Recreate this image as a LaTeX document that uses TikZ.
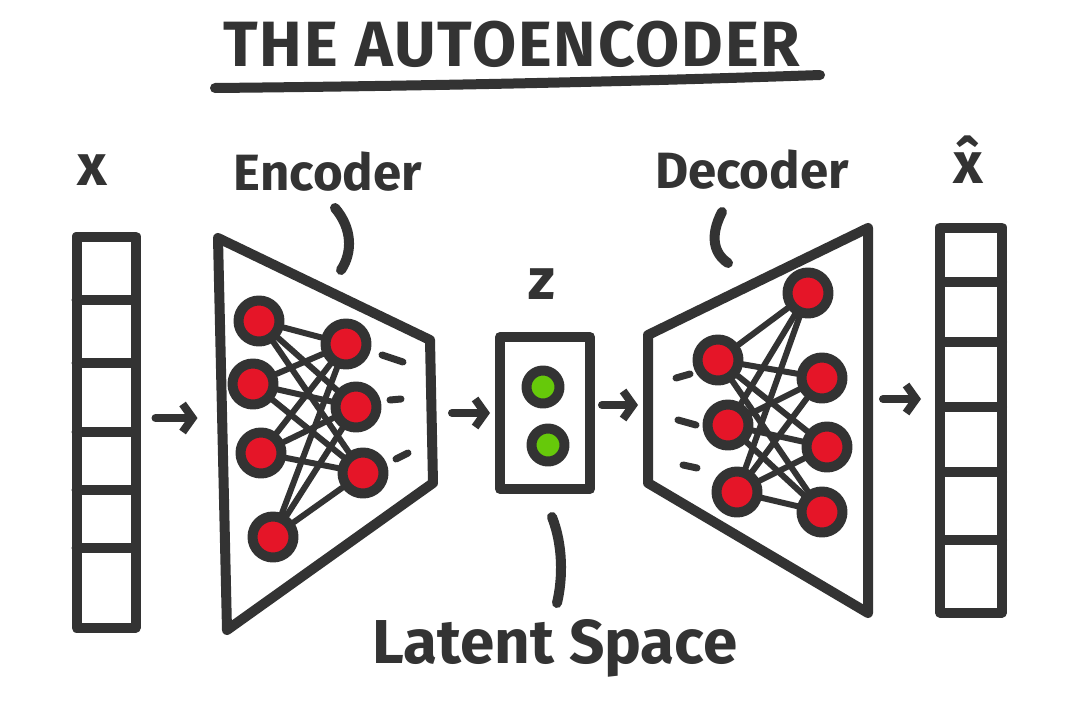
\documentclass[tikz,border=0pt]{standalone}
\usepackage{fontspec}
\setmainfont{Fira Sans}
\definecolor{AEInk}{HTML}{333333}
\definecolor{AERed}{HTML}{E51528}
\definecolor{AEGreen}{HTML}{66C90A}
\usetikzlibrary{positioning,arrows.meta,calc}

\begin{document}
\begin{tikzpicture}[x=1pt, y=-1pt, line cap=round, line join=round,
    ink/.style={draw=AEInk, line width=10pt},
    vec/.style={draw=AEInk, line width=10pt, outer sep=0pt, inner sep=0pt},
    neuron/.style={circle, draw=AEInk, line width=10pt, fill=AERed, minimum size=41pt, inner sep=0pt},
    latent/.style={neuron, fill=AEGreen, minimum size=33pt},
    link/.style={draw=AEInk, line width=6pt},
    flow/.style={draw=AEInk, line width=8pt, -{Straight Barb[length=10pt,width=28pt]}},
    lbl/.style={text=AEInk, inner sep=0pt, font=\bfseries\fontsize{#1}{#1}\selectfont},
    lbl/.default=50]
  \fill[white] (0,0) rectangle (1085,728);
  \useasboundingbox (0,0) rectangle (1085,728);

  % title
  \node[lbl=64] (title) at (512,44) {\addfontfeature{LetterSpace=3}THE AUTOENCODER};
  \draw[ink] (215,88) .. controls (420,86) and (620,82) .. (820,75);

  % input and output vectors
  \node[vec, minimum width=59pt, minimum height=391pt] (xin) at (106,432) {};
  \foreach \y in {300,363,432,490,548}
    \draw[ink] (xin.west |- 0,\y) -- (xin.east |- 0,\y);
  \node[vec, minimum width=62pt, minimum height=385pt] (xout) at (971,420) {};
  \foreach \y in {282,342,407,472,540}
    \draw[ink] (xout.west |- 0,\y) -- (xout.east |- 0,\y);
  \node[lbl=58] (xlab) at (92,170) {x};
  \node[lbl=58] (xhatlab) at (968,160) {\^{x}};

  % encoder
  \draw[ink] (218,238) -- (430,340) -- (433,483) -- (227,630) -- cycle;
  \node[neuron] (e1) at (259,321) {};
  \node[neuron] (e2) at (253,384) {};
  \node[neuron] (e3) at (261,453) {};
  \node[neuron] (e4) at (273,537) {};
  \node[neuron] (f1) at (346,344) {};
  \node[neuron] (f2) at (356,407) {};
  \node[neuron] (f3) at (363,473) {};
  \foreach \i in {1,...,4}
    \foreach \j in {1,2,3}
      \draw[link] (e\i) -- (f\j);
  \draw[ink, line width=7pt] (382,355) -- (403,362);
  \draw[ink, line width=7pt] (390,400) -- (401,399);
  \draw[ink, line width=7pt] (396,459) -- (408,453);
  \node[lbl=51] (enclab) at (328,172) {Encoder};
  \draw[ink] (335,208) .. controls (352,228) and (353,252) .. (341,270);

  % latent space
  \node[vec, minimum width=90pt, minimum height=152pt] (zbox) at (545,413) {};
  \node[latent] (z1) at (543,387) {};
  \node[latent] (z2) at (548,445) {};
  \node[lbl=58] (zlab) at (542,284) {z};
  \draw[ink] (552,517) .. controls (563,545) and (563,578) .. (557,603);
  \node[lbl=62] (latlab) at (555,648) {Latent Space};

  % decoder
  \draw[ink] (648,335) -- (868,228) -- (868,613) -- (648,483) -- cycle;
  \node[neuron] (d1) at (718,360) {};
  \node[neuron] (d2) at (728,425) {};
  \node[neuron] (d3) at (737,492) {};
  \node[neuron] (g1) at (808,293) {};
  \node[neuron] (g2) at (822,378) {};
  \node[neuron] (g3) at (827,447) {};
  \node[neuron] (g4) at (822,512) {};
  \foreach \i in {1,2,3}
    \foreach \j in {1,...,4}
      \draw[link] (d\i) -- (g\j);
  \draw[ink, line width=7pt] (676,378) -- (690,374);
  \draw[ink, line width=7pt] (678,420) -- (696,425);
  \draw[ink, line width=7pt] (683,465) -- (697,468);
  \node[lbl=51] (declab) at (752,170) {Decoder};
  \draw[ink] (722,212) .. controls (710,235) and (713,253) .. (728,263);

  % flow arrows
  \draw[flow] (xin.east) ++(20,-14) -- ++(42,0);
  \draw[flow] (zbox.west) ++(-48,0) -- ++(38,0);
  \draw[flow] (zbox.east) ++(12,-8) -- ++(36,0);
  \draw[flow] (xout.west) ++(-57,-21) -- ++(38,0);
\end{tikzpicture}
\end{document}
